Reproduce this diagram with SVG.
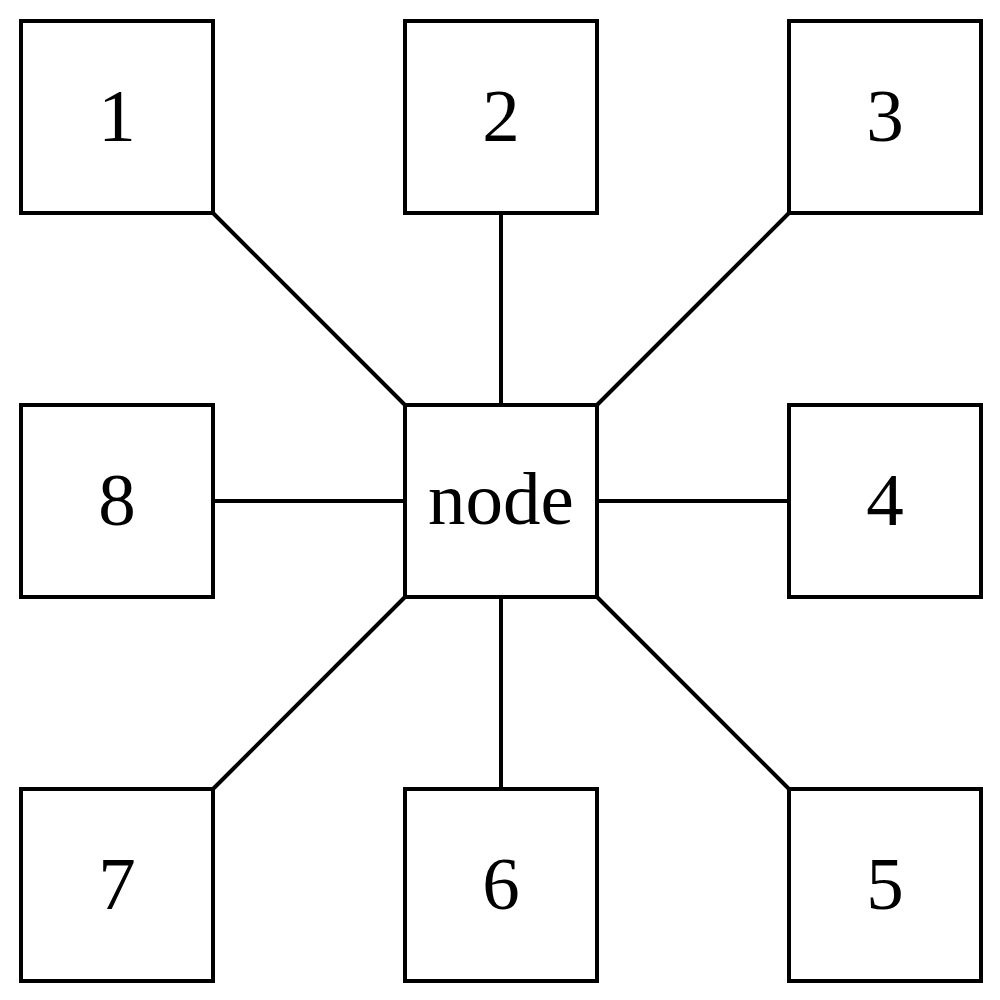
<svg xmlns="http://www.w3.org/2000/svg" width="1000" height="1000" viewBox="0 0 1000 1000">
<style>
.box{fill:#fff;stroke:#000;stroke-width:4}
line{stroke:#000;stroke-width:4}
text{font-family:"Liberation Serif","Times New Roman",serif;font-size:75px;text-anchor:middle;fill:#000}
</style>
<rect width="1000" height="1000" fill="#fff"/>
<g id="connectors">
<line x1="213" y1="213" x2="405" y2="405"/>
<line x1="501" y1="213" x2="501" y2="405"/>
<line x1="789" y1="213" x2="597" y2="405"/>
<line x1="597" y1="501" x2="789" y2="501"/>
<line x1="597" y1="597" x2="789" y2="789"/>
<line x1="501" y1="597" x2="501" y2="789"/>
<line x1="405" y1="597" x2="213" y2="789"/>
<line x1="213" y1="501" x2="405" y2="501"/>
</g>
<g id="node"><rect class="box" x="405" y="405" width="192" height="192"/><text x="501" y="524">node</text></g>
<g id="n1"><rect class="box" x="21" y="21" width="192" height="192"/><text x="117" y="141">1</text></g>
<g id="n2"><rect class="box" x="405" y="21" width="192" height="192"/><text x="501" y="141">2</text></g>
<g id="n3"><rect class="box" x="789" y="21" width="192" height="192"/><text x="885" y="141">3</text></g>
<g id="n4"><rect class="box" x="789" y="405" width="192" height="192"/><text x="885" y="525">4</text></g>
<g id="n5"><rect class="box" x="789" y="789" width="192" height="192"/><text x="885" y="909">5</text></g>
<g id="n6"><rect class="box" x="405" y="789" width="192" height="192"/><text x="501" y="909">6</text></g>
<g id="n7"><rect class="box" x="21" y="789" width="192" height="192"/><text x="117" y="909">7</text></g>
<g id="n8"><rect class="box" x="21" y="405" width="192" height="192"/><text x="117" y="525">8</text></g>
</svg>
